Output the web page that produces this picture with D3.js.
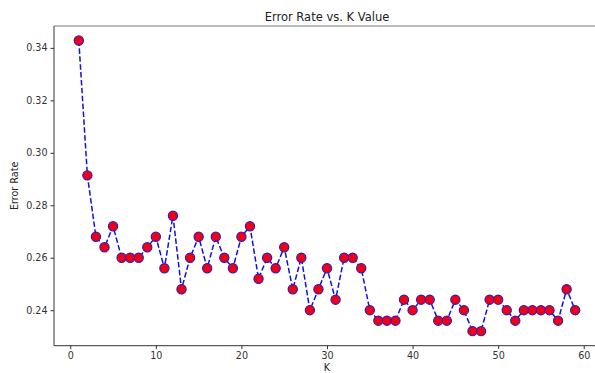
<!DOCTYPE html>
<html>
<head>
<meta charset="utf-8">
<script src="https://cdn.jsdelivr.net/npm/d3@7/dist/d3.min.js"></script>
<style>
  html, body { margin: 0; padding: 0; background: #fff; overflow: hidden; }
  svg { display: block; font-family: "DejaVu Sans", sans-serif; }
</style>
</head>
<body>
<div class="chart"></div>
<script>
// K values and the error rate
var kValues = d3.range(1, 60);
var errorRate = [
  0.3428, 0.2914, 0.268, 0.264, 0.272, 0.26, 0.26, 0.26, 0.264, 0.268,
  0.256, 0.276, 0.248, 0.26, 0.268, 0.256, 0.268, 0.26, 0.256, 0.268,
  0.272, 0.252, 0.26, 0.256, 0.264, 0.248, 0.26, 0.24, 0.248, 0.256,
  0.244, 0.26, 0.26, 0.256, 0.24, 0.236, 0.236, 0.236, 0.244, 0.24,
  0.244, 0.244, 0.236, 0.236, 0.244, 0.24, 0.232, 0.232, 0.244, 0.244,
  0.24, 0.236, 0.24, 0.24, 0.24, 0.24, 0.236, 0.248, 0.24
];
var xTicks = [0, 10, 20, 30, 40, 50, 60];
var yTicks = [0.24, 0.26, 0.28, 0.30, 0.32, 0.34];

var width = 595, height = 373;
// plot area (right edge runs past the picture, as in the reference)
var margin = { top: 26, left: 54, bottom: 27.3, rightEdge: 600 };

var svg = d3.select(".chart").append("svg")
  .attr("width", width)
  .attr("height", height);

// matplotlib-like 5% padding around the data
var xExt = d3.extent(kValues), yExt = d3.extent(errorRate);
var xPad = (xExt[1] - xExt[0]) * 0.05, yPad = (yExt[1] - yExt[0]) * 0.05;

var xScale = d3.scaleLinear()
  .domain([xExt[0] - xPad, xExt[1] + xPad])
  .range([margin.left, margin.rightEdge]);
var yScale = d3.scaleLinear()
  .domain([yExt[0] - yPad, yExt[1] + yPad])
  .range([height - margin.bottom, margin.top]);

var data = kValues.map(function(k, i) { return { k: k, e: errorRate[i] }; });

// dashed line
svg.append("path")
  .datum(data)
  .attr("fill", "none")
  .attr("stroke", "#1010e0")
  .attr("stroke-width", 1.5)
  .attr("stroke-dasharray", "5.5,2.4")
  .attr("d", d3.line().x(d => xScale(d.k)).y(d => yScale(d.e)));

// markers
svg.selectAll(".pt")
  .data(data)
  .enter().append("circle")
  .attr("class", "pt")
  .attr("cx", d => xScale(d.k))
  .attr("cy", d => yScale(d.e))
  .attr("r", 4.6)
  .attr("fill", "#f00018")
  .attr("stroke", "#3a1aa8")
  .attr("stroke-width", 1.2);

// axes
var xAxis = d3.axisBottom(xScale).tickValues(xTicks).tickSize(3.5).tickPadding(3).tickFormat(d3.format("d"));
var yAxis = d3.axisLeft(yScale).tickValues(yTicks).tickSize(3.5).tickPadding(3).tickFormat(d3.format(".2f"));

var gx = svg.append("g")
  .attr("transform", "translate(0," + (height - margin.bottom) + ")")
  .call(xAxis);
var gy = svg.append("g")
  .attr("transform", "translate(" + margin.left + ",0)")
  .call(yAxis);

[gx, gy].forEach(function(g) {
  g.select(".domain").remove();
  g.selectAll(".tick line").attr("stroke", "#333");
  g.selectAll(".tick text").attr("fill", "#333").style("font-size", "9.6px").style("font-family", "DejaVu Sans");
});

// spines
svg.append("line")
  .attr("x1", margin.left).attr("x2", margin.left)
  .attr("y1", margin.top).attr("y2", height - margin.bottom)
  .attr("stroke", "#333").attr("stroke-width", 1);
svg.append("line")
  .attr("x1", margin.left).attr("x2", margin.rightEdge)
  .attr("y1", height - margin.bottom).attr("y2", height - margin.bottom)
  .attr("stroke", "#333").attr("stroke-width", 1);
svg.append("line")
  .attr("x1", margin.left).attr("x2", margin.rightEdge)
  .attr("y1", margin.top).attr("y2", margin.top)
  .attr("stroke", "#777").attr("stroke-width", 1);

// title and labels
var cx = (margin.left + margin.rightEdge) / 2;
svg.append("text")
  .attr("x", cx).attr("y", 21)
  .attr("text-anchor", "middle")
  .attr("fill", "#222")
  .style("font-size", "11.5px")
  .text("Error Rate vs. K Value");
svg.append("text")
  .attr("x", xScale(30)).attr("y", 371)
  .attr("text-anchor", "middle")
  .attr("fill", "#222")
  .style("font-size", "9.6px")
  .text("K");
svg.append("text")
  .attr("transform", "translate(18," + ((margin.top + height - margin.bottom) / 2) + ") rotate(-90)")
  .attr("text-anchor", "middle")
  .attr("fill", "#222")
  .style("font-size", "9.6px")
  .text("Error Rate");
</script>
</body>
</html>
